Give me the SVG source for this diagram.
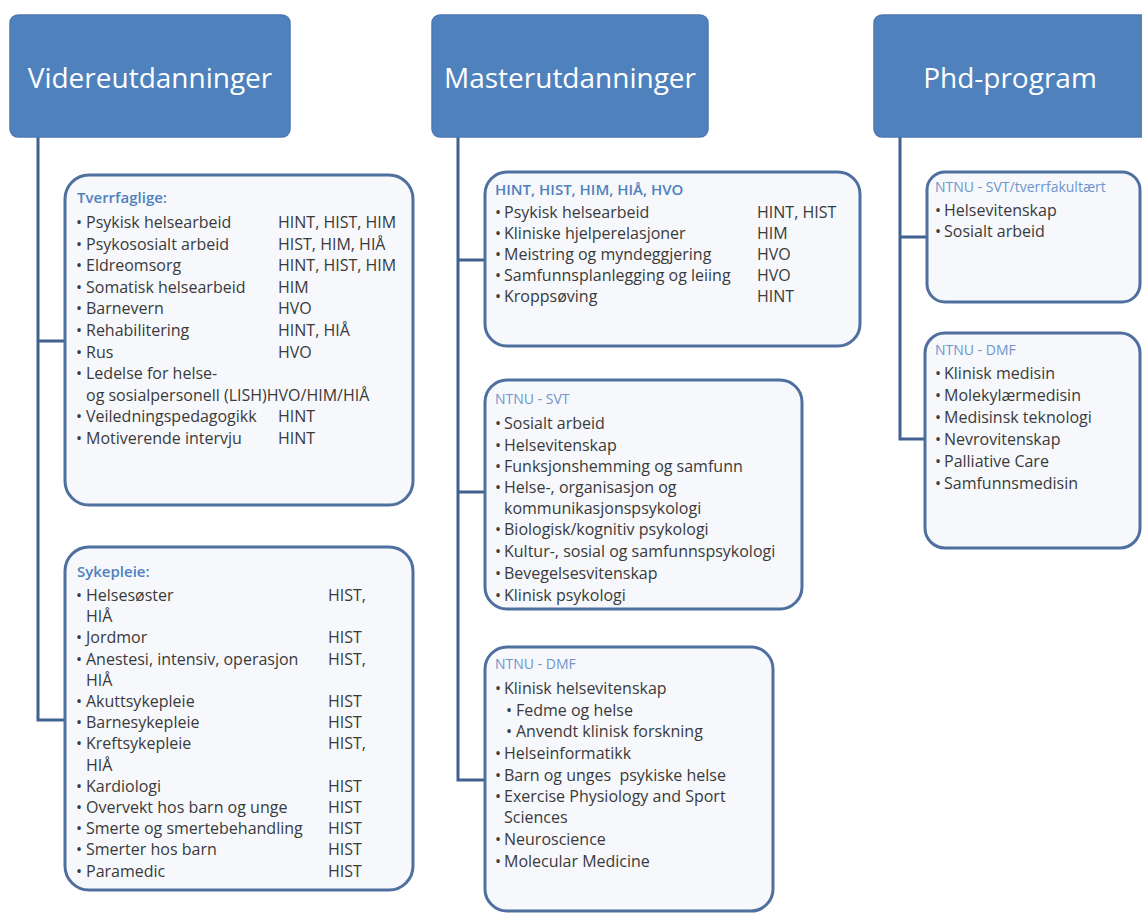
<svg xmlns="http://www.w3.org/2000/svg" width="1142" height="914" viewBox="0 0 1142 914">
<style>
.bg{fill:#ffffff}
.hdr{fill:#4F81BD;stroke:#4a7ab3;stroke-width:1.5}
.hdrt{font-family:"Open Sans","Liberation Sans",sans-serif;font-size:28px;fill:#ffffff;text-anchor:middle}
.box{fill:#f6f8fc;stroke:#4f6f9f;stroke-width:3}
.t{font-family:"Open Sans","Liberation Sans",sans-serif;font-size:16px;fill:#3a3a3a}
.ttl{font-family:"Open Sans","Liberation Sans",sans-serif;font-size:15px;font-weight:600;fill:#4F81BD}
.nt{font-family:"Open Sans","Liberation Sans",sans-serif;font-size:14px;fill:#6f95cc}
.conn{fill:none;stroke:#3f6090;stroke-width:3}
</style>
<rect class="bg" x="0" y="0" width="1142" height="914"/>

<g id="connectors">
<path class="conn" d="M38 137 V720 H65 M38 341 H65"/>
<path class="conn" d="M458 137 V780 H485 M458 260 H485 M458 492 H485"/>
<path class="conn" d="M900 137 V439 H925 M900 237 H927"/>
</g>

<g id="hdr-videre">
<rect class="hdr" x="10" y="15" width="280" height="122" rx="8"/>
<text class="hdrt" x="150" y="88">Videreutdanninger</text>
</g>
<g id="hdr-master">
<rect class="hdr" x="432" y="15" width="276" height="122" rx="8"/>
<text class="hdrt" x="570" y="88">Masterutdanninger</text>
</g>
<g id="hdr-phd">
<rect class="hdr" x="874" y="15" width="276" height="122" rx="8"/>
<text class="hdrt" x="1010" y="88">Phd-program</text>
</g>

<g id="box-tverrfaglige">
<rect class="box" x="65" y="175" width="348" height="330" rx="24"/>
<text class="ttl" x="77" y="203">Tverrfaglige:</text>
<g class="t">
<text x="76" y="228">•<tspan x="86">Psykisk helsearbeid</tspan><tspan x="278">HINT, HIST, HIM</tspan></text>
<text x="76" y="249.6">•<tspan x="86">Psykososialt arbeid</tspan><tspan x="278">HIST, HIM, HIÅ</tspan></text>
<text x="76" y="271.2">•<tspan x="86">Eldreomsorg</tspan><tspan x="278">HINT, HIST, HIM</tspan></text>
<text x="76" y="292.8">•<tspan x="86">Somatisk helsearbeid</tspan><tspan x="278">HIM</tspan></text>
<text x="76" y="314.4">•<tspan x="86">Barnevern</tspan><tspan x="278">HVO</tspan></text>
<text x="76" y="336">•<tspan x="86">Rehabilitering</tspan><tspan x="278">HINT, HIÅ</tspan></text>
<text x="76" y="357.6">•<tspan x="86">Rus</tspan><tspan x="278">HVO</tspan></text>
<text x="76" y="379.2">•<tspan x="86">Ledelse for helse-</tspan></text>
<text x="86" y="400.8">og sosialpersonell (LISH)HVO/HIM/HIÅ</text>
<text x="76" y="422.4">•<tspan x="86">Veiledningspedagogikk</tspan><tspan x="278">HINT</tspan></text>
<text x="76" y="444">•<tspan x="86">Motiverende intervju</tspan><tspan x="278">HINT</tspan></text>
</g>
</g>

<g id="box-sykepleie">
<rect class="box" x="65" y="547" width="348" height="343" rx="24"/>
<text class="ttl" x="77" y="577">Sykepleie:</text>
<g class="t">
<text x="76" y="601">•<tspan x="86">Helsesøster</tspan><tspan x="328">HIST,</tspan></text>
<text x="86" y="622.2">HIÅ</text>
<text x="76" y="643.4">•<tspan x="86">Jordmor</tspan><tspan x="328">HIST</tspan></text>
<text x="76" y="664.6">•<tspan x="86">Anestesi, intensiv, operasjon</tspan><tspan x="328">HIST,</tspan></text>
<text x="86" y="685.8">HIÅ</text>
<text x="76" y="707">•<tspan x="86">Akuttsykepleie</tspan><tspan x="328">HIST</tspan></text>
<text x="76" y="728.2">•<tspan x="86">Barnesykepleie</tspan><tspan x="328">HIST</tspan></text>
<text x="76" y="749.4">•<tspan x="86">Kreftsykepleie</tspan><tspan x="328">HIST,</tspan></text>
<text x="86" y="770.6">HIÅ</text>
<text x="76" y="791.8">•<tspan x="86">Kardiologi</tspan><tspan x="328">HIST</tspan></text>
<text x="76" y="813">•<tspan x="86">Overvekt hos barn og unge</tspan><tspan x="328">HIST</tspan></text>
<text x="76" y="834.2">•<tspan x="86">Smerte og smertebehandling</tspan><tspan x="328">HIST</tspan></text>
<text x="76" y="855.4">•<tspan x="86">Smerter hos barn</tspan><tspan x="328">HIST</tspan></text>
<text x="76" y="876.6">•<tspan x="86">Paramedic</tspan><tspan x="328">HIST</tspan></text>
</g>
</g>

<g id="box-master-hint">
<rect class="box" x="485" y="172" width="375" height="174" rx="22"/>
<text class="ttl" x="495" y="195">HINT, HIST, HIM, HIÅ, HVO</text>
<g class="t">
<text x="495" y="218">•<tspan x="504">Psykisk helsearbeid</tspan><tspan x="757">HINT, HIST</tspan></text>
<text x="495" y="239">•<tspan x="504">Kliniske hjelperelasjoner</tspan><tspan x="757">HIM</tspan></text>
<text x="495" y="260">•<tspan x="504">Meistring og myndeggjering</tspan><tspan x="757">HVO</tspan></text>
<text x="495" y="281">•<tspan x="504">Samfunnsplanlegging og leiing</tspan><tspan x="757">HVO</tspan></text>
<text x="495" y="302">•<tspan x="504">Kroppsøving</tspan><tspan x="757">HINT</tspan></text>
</g>
</g>

<g id="box-master-svt">
<rect class="box" x="485" y="380" width="317" height="229" rx="22"/>
<text class="nt" x="495" y="404">NTNU - SVT</text>
<g class="t">
<text x="495" y="429">•<tspan x="504">Sosialt arbeid</tspan></text>
<text x="495" y="451">•<tspan x="504">Helsevitenskap</tspan></text>
<text x="495" y="472">•<tspan x="504">Funksjonshemming og samfunn</tspan></text>
<text x="495" y="493">•<tspan x="504">Helse-, organisasjon og</tspan></text>
<text x="504" y="514">kommunikasjonspsykologi</text>
<text x="495" y="535">•<tspan x="504">Biologisk/kognitiv psykologi</tspan></text>
<text x="495" y="557">•<tspan x="504">Kultur-, sosial og samfunnspsykologi</tspan></text>
<text x="495" y="579">•<tspan x="504">Bevegelsesvitenskap</tspan></text>
<text x="495" y="601">•<tspan x="504">Klinisk psykologi</tspan></text>
</g>
</g>

<g id="box-master-dmf">
<rect class="box" x="485" y="647" width="288" height="264" rx="22"/>
<text class="nt" x="495" y="669">NTNU - DMF</text>
<g class="t">
<text x="495" y="694">•<tspan x="504">Klinisk helsevitenskap</tspan></text>
<text x="506" y="716">•<tspan x="516">Fedme og helse</tspan></text>
<text x="506" y="737">•<tspan x="516">Anvendt klinisk forskning</tspan></text>
<text x="495" y="759">•<tspan x="504">Helseinformatikk</tspan></text>
<text x="495" y="781" style="white-space:pre">•<tspan x="504">Barn og unges  psykiske helse</tspan></text>
<text x="495" y="802">•<tspan x="504">Exercise Physiology and Sport</tspan></text>
<text x="504" y="823">Sciences</text>
<text x="495" y="845">•<tspan x="504">Neuroscience</tspan></text>
<text x="495" y="867">•<tspan x="504">Molecular Medicine</tspan></text>
</g>
</g>

<g id="box-phd-svt">
<rect class="box" x="927" y="172" width="213" height="130" rx="18"/>
<text class="nt" x="935" y="192">NTNU - SVT/tverrfakultært</text>
<g class="t">
<text x="935" y="216">•<tspan x="944">Helsevitenskap</tspan></text>
<text x="935" y="237">•<tspan x="944">Sosialt arbeid</tspan></text>
</g>
</g>

<g id="box-phd-dmf">
<rect class="box" x="925" y="333" width="215" height="215" rx="20"/>
<text class="nt" x="935" y="355">NTNU - DMF</text>
<g class="t">
<text x="935" y="379">•<tspan x="944">Klinisk medisin</tspan></text>
<text x="935" y="401">•<tspan x="944">Molekylærmedisin</tspan></text>
<text x="935" y="423">•<tspan x="944">Medisinsk teknologi</tspan></text>
<text x="935" y="445">•<tspan x="944">Nevrovitenskap</tspan></text>
<text x="935" y="467">•<tspan x="944">Palliative Care</tspan></text>
<text x="935" y="489">•<tspan x="944">Samfunnsmedisin</tspan></text>
</g>
</g>
</svg>
